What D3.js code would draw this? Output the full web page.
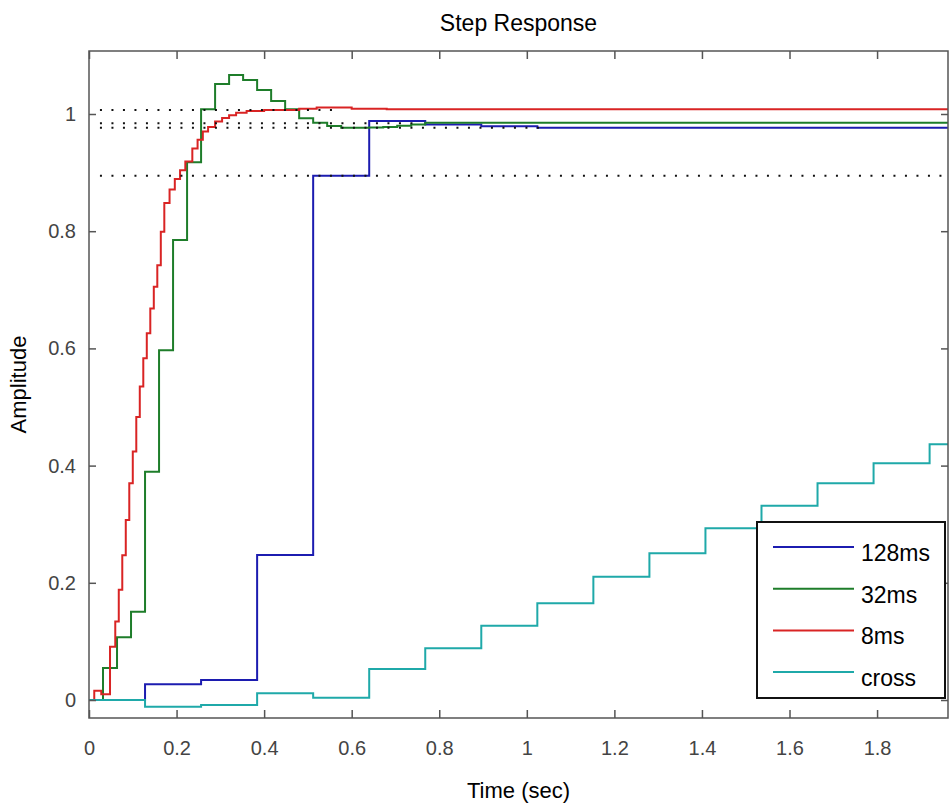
<!DOCTYPE html>
<html>
<head>
<meta charset="utf-8">
<script src="https://cdn.jsdelivr.net/npm/d3@7"></script>
<style>
  body { margin: 0; background: #fff; }
  svg { display: block; font-family: "Liberation Sans", Arial, Helvetica, sans-serif; }
</style>
</head>
<body>
<div id="chart"></div>
<script>
// Step response of the loop at several sample times

const seriesNames = ['128ms', '32ms', '8ms', 'cross'];
const seriesColors = ['#1c1cb0', '#1e7d2a', '#d92424', '#1fa9a9'];

// 128 ms sampled response (value held from k*0.128 s)
const period128 = 0.128;
const values128 = [0, 0.0268, 0.0341, 0.2474, 0.8947, 0.988, 0.982, 0.979, 0.9766];

// 32 ms sampled response
const period32 = 0.032;
const values32 = [0, 0.0546, 0.107, 0.1507, 0.3896, 0.597, 0.785, 0.9176, 1.008, 1.0512,
  1.0666, 1.058, 1.041, 1.0222, 1.008, 0.9927, 0.9852, 0.9795, 0.9766, 0.9766,
  0.977, 0.978, 0.980, 0.982, 0.985];

// 8 ms response: step edges
const times8 = [0, 0.012, 0.028, 0.048, 0.060, 0.068, 0.076, 0.084, 0.092, 0.100,
  0.108, 0.116, 0.124, 0.132, 0.140, 0.148, 0.156, 0.164, 0.172, 0.184,
  0.196, 0.208, 0.220, 0.236, 0.248, 0.260, 0.272, 0.288, 0.304, 0.320,
  0.336, 0.360, 0.400, 0.480, 0.520, 0.600, 0.680];
const values8 = [0, 0.016, 0.010, 0.091, 0.134, 0.188, 0.247, 0.307, 0.370, 0.424,
  0.483, 0.535, 0.583, 0.626, 0.668, 0.705, 0.742, 0.799, 0.848, 0.871,
  0.889, 0.904, 0.919, 0.941, 0.956, 0.970, 0.978, 0.987, 0.993, 0.998,
  1.002, 1.005, 1.007, 1.009, 1.011, 1.009, 1.008];

// cross coupling, sampled every 128 ms
const periodCross = 0.128;
const valuesCross = [0, -0.0114, -0.0085, 0.0114, 0.0039, 0.0529, 0.0882, 0.1268, 0.165,
  0.2104, 0.2503, 0.293, 0.3316, 0.3698, 0.4039, 0.4364];

// dotted steady-state markers
const refValues = [1.0068, 0.9841, 0.9766, 0.8947];
const refStart = 0.025;
const refEnds = [0.56, 0.76, 1.03, 1.962];

const xTicks = [0, 0.2, 0.4, 0.6, 0.8, 1, 1.2, 1.4, 1.6, 1.8];
const yTicks = [0, 0.2, 0.4, 0.6, 0.8, 1];
const xDomain = [0, 1.962];
const yDomain = [-0.0307, 1.1075];

const width = 952, height = 809;
const box = { left: 89, right: 948, top: 51, bottom: 718 };

const svg = d3.select('#chart').append('svg')
  .attr('width', width)
  .attr('height', height);

const x = d3.scaleLinear().domain(xDomain).range([box.left, box.right]);
const y = d3.scaleLinear().domain(yDomain).range([box.bottom, box.top]);

const fmt = d => d3.format('~g')(d);

// step points, last value held to the right edge
function stairs(times, values) {
  const pts = times.map((t, i) => [t, values[i]]);
  pts.push([xDomain[1], values[values.length - 1]]);
  return pts;
}
function sampled(period, values) {
  return stairs(values.map((v, i) => i * period), values);
}

const series = [
  sampled(period128, values128),
  sampled(period32, values32),
  stairs(times8, values8),
  sampled(periodCross, valuesCross)
];

const line = d3.line()
  .x(d => x(d[0]))
  .y(d => y(d[1]))
  .curve(d3.curveStepAfter);

svg.append('g')
  .selectAll('path')
  .data(series)
  .join('path')
  .attr('fill', 'none')
  .attr('stroke', (d, i) => seriesColors[i])
  .attr('stroke-width', 2)
  .attr('d', line);

// dotted reference lines
svg.append('g')
  .selectAll('line')
  .data(refValues)
  .join('line')
  .attr('x1', x(refStart))
  .attr('x2', (d, i) => x(refEnds[i]))
  .attr('y1', d => y(d))
  .attr('y2', d => y(d))
  .attr('stroke', '#111')
  .attr('stroke-width', 2)
  .attr('stroke-dasharray', '2,9.5');

// axes (ticks pointing inward on all four sides)
const axisColor = '#555';
function styleAxis(g) {
  g.select('.domain').remove();
  g.selectAll('.tick line').attr('stroke', axisColor).attr('stroke-width', 1.5);
  g.selectAll('.tick text')
    .attr('fill', '#444')
    .style('font-size', '20px');
}

svg.append('g')
  .attr('transform', `translate(0,${box.bottom})`)
  .call(d3.axisBottom(x).tickValues(xTicks).tickFormat(fmt).tickSize(-8).tickPadding(23))
  .call(styleAxis);

svg.append('g')
  .attr('transform', `translate(0,${box.top})`)
  .call(d3.axisTop(x).tickValues(xTicks).tickFormat('').tickSize(-8))
  .call(styleAxis);

svg.append('g')
  .attr('transform', `translate(${box.left},0)`)
  .call(d3.axisLeft(y).tickValues(yTicks).tickFormat(fmt).tickSize(-7).tickPadding(13))
  .call(styleAxis);

svg.append('g')
  .attr('transform', `translate(${box.right},0)`)
  .call(d3.axisRight(y).tickValues(yTicks).tickFormat('').tickSize(-7))
  .call(styleAxis);

svg.append('rect')
  .attr('x', box.left)
  .attr('y', box.top)
  .attr('width', box.right - box.left)
  .attr('height', box.bottom - box.top)
  .attr('fill', 'none')
  .attr('stroke', axisColor)
  .attr('stroke-width', 1.5);

// titles
svg.append('text')
  .attr('x', (box.left + box.right) / 2)
  .attr('y', 31)
  .attr('text-anchor', 'middle')
  .style('font-size', '23px')
  .text('Step Response');

svg.append('text')
  .attr('x', (box.left + box.right) / 2)
  .attr('y', 798)
  .attr('text-anchor', 'middle')
  .style('font-size', '22px')
  .text('Time (sec)');

svg.append('text')
  .attr('transform', `translate(26,${(box.top + box.bottom) / 2}) rotate(-90)`)
  .attr('text-anchor', 'middle')
  .style('font-size', '22px')
  .text('Amplitude');

// legend
const legend = svg.append('g').attr('transform', 'translate(757,522)');
legend.append('rect')
  .attr('width', 188)
  .attr('height', 176)
  .attr('fill', '#fff')
  .attr('stroke', '#111')
  .attr('stroke-width', 2);

const rows = legend.selectAll('g.row')
  .data(seriesNames)
  .join('g')
  .attr('class', 'row')
  .attr('transform', (d, i) => `translate(0,${25 + i * 41.7})`);

rows.append('line')
  .attr('x1', 16)
  .attr('x2', 97)
  .attr('stroke', (d, i) => seriesColors[i])
  .attr('stroke-width', 2);

rows.append('text')
  .attr('x', 104)
  .attr('y', 14)
  .style('font-size', '23px')
  .text(d => d);
</script>
</body>
</html>
